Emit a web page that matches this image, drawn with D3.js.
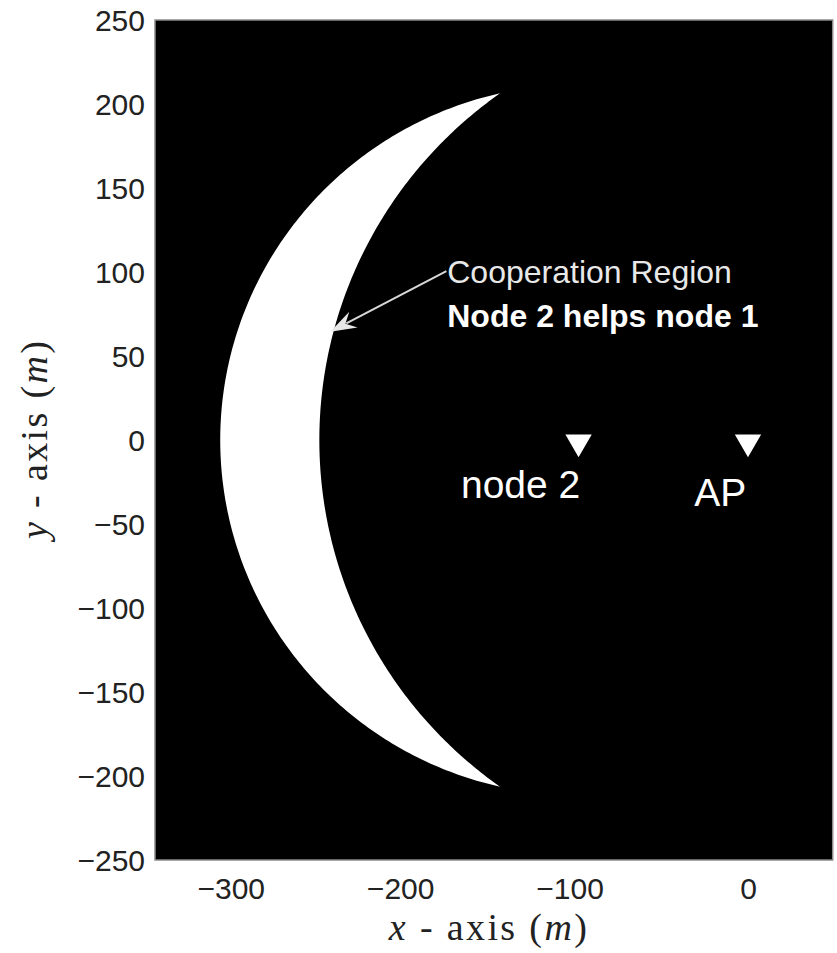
<!DOCTYPE html>
<html>
<head>
<meta charset="utf-8">
<script src="https://cdn.jsdelivr.net/npm/d3@7"></script>
<style>
  html, body { margin: 0; padding: 0; background: #ffffff; }
  svg { display: block; }
</style>
</head>
<body>
<svg id="chart" width="837" height="953"></svg>
<script>
// Axis ranges and ticks (metres)
const xDomain = [-350, 50];
const yDomain = [-250, 250];
const xTicks = [-300, -200, -100, 0];
const yTicks = [250, 200, 150, 100, 50, 0, -50, -100, -150, -200, -250];

// Node positions
const nodeNames = ["node 2", "AP"];
const nodeX = [-100, 0];
const nodeY = [0, 0];
// Node label anchors (text end point)
const labelX = [-99, -1];
const labelY = [-34.5, -39.5];

// Cooperation region: inside the circle around node 2, outside the circle around the AP
const regionCenterX = [-100, 0];   // [node 2, AP]
const regionRadius = [211.5, 253]; // [outer boundary, inner boundary]

// Annotation
const noteLines = ["Cooperation Region", "Node 2 helps node 1"];
const noteX = -177.5;
const noteY = [93.3, 67.4];
const arrowFrom = [-178, 100.5];
const arrowTo = [-246.5, 64.5];

const svg = d3.select("#chart");
const mLeft = 155, mRight = 832.7, mTop = 20, mBottom = 860;
const x = d3.scaleLinear().domain(xDomain).range([mLeft, mRight]);
const y = d3.scaleLinear().domain(yDomain).range([mBottom, mTop]);

// Plot background
svg.append("rect")
  .attr("x", mLeft).attr("y", mTop)
  .attr("width", mRight - mLeft).attr("height", mBottom - mTop)
  .attr("fill", "#000");

// Crescent region between the two boundary circles
const cx1 = regionCenterX[0], r1 = regionRadius[0];
const cx2 = regionCenterX[1], r2 = regionRadius[1];
const tipX = (r1 * r1 - r2 * r2 - (cx1 * cx1 - cx2 * cx2)) / (2 * (cx2 - cx1));
const tipY = Math.sqrt(r2 * r2 - (tipX - cx2) * (tipX - cx2));
const a1 = Math.atan2(tipY, tipX - cx1);       // outer arc start angle
const a2 = Math.atan2(tipY, tipX - cx2);       // inner arc end angle
const pts = [];
const n = 240;
for (let i = 0; i <= n; i++) {
  const t = a1 + (2 * Math.PI - 2 * a1) * i / n;
  pts.push([cx1 + r1 * Math.cos(t), r1 * Math.sin(t)]);
}
for (let i = 0; i <= n; i++) {
  const t = (2 * Math.PI - a2) - (2 * Math.PI - 2 * a2) * i / n;
  pts.push([cx2 + r2 * Math.cos(t), r2 * Math.sin(t)]);
}
const line = d3.line().x(d => x(d[0])).y(d => y(d[1]));
svg.append("path")
  .attr("d", line(pts) + "Z")
  .attr("fill", "#fff")
  .attr("stroke", "none");

// Node markers (downward triangles)
const tri = d3.symbol().type(d3.symbolTriangle).size(300);
svg.selectAll("path.node")
  .data(nodeNames)
  .join("path")
  .attr("class", "node")
  .attr("d", tri)
  .attr("fill", "#fff")
  .attr("transform", (d, i) => `translate(${x(nodeX[i])},${y(nodeY[i]) + 2}) rotate(180)`);

svg.selectAll("text.nodelabel")
  .data(nodeNames)
  .join("text")
  .attr("class", "nodelabel")
  .attr("x", (d, i) => x(labelX[i]))
  .attr("y", (d, i) => y(labelY[i]))
  .attr("text-anchor", "end")
  .attr("font-family", "Liberation Sans, Arial, sans-serif")
  .attr("font-size", 39)
  .attr("fill", "#fff")
  .text(d => d);

// Annotation arrow
const ax0 = x(arrowFrom[0]), ay0 = y(arrowFrom[1]);
const ax1 = x(arrowTo[0]), ay1 = y(arrowTo[1]);
const ang = Math.atan2(ay1 - ay0, ax1 - ax0);
const headLen = 26, headW = 9;
const bx = ax1 - headLen * Math.cos(ang), by = ay1 - headLen * Math.sin(ang);
svg.append("line")
  .attr("x1", ax0).attr("y1", ay0)
  .attr("x2", bx + 8 * Math.cos(ang)).attr("y2", by + 8 * Math.sin(ang))
  .attr("stroke", "#d8d8d8").attr("stroke-width", 2);
svg.append("path")
  .attr("d", `M${ax1},${ay1}L${bx + headW * Math.sin(ang)},${by - headW * Math.cos(ang)}L${bx + 9 * Math.cos(ang)},${by + 9 * Math.sin(ang)}L${bx - headW * Math.sin(ang)},${by + headW * Math.cos(ang)}Z`)
  .attr("fill", "#e8e8e8");

svg.append("text")
  .attr("x", x(noteX)).attr("y", y(noteY[0]))
  .attr("font-family", "Liberation Sans, Arial, sans-serif")
  .attr("font-size", 32)
  .attr("fill", "#e8e8e8")
  .text(noteLines[0]);
svg.append("text")
  .attr("x", x(noteX)).attr("y", y(noteY[1]))
  .attr("font-family", "Liberation Sans, Arial, sans-serif")
  .attr("font-size", 32)
  .attr("font-weight", "bold")
  .attr("fill", "#fff")
  .text(noteLines[1]);

// Frame
svg.append("rect")
  .attr("x", mLeft).attr("y", mTop)
  .attr("width", mRight - mLeft).attr("height", mBottom - mTop)
  .attr("fill", "none").attr("stroke", "#8a8a8a").attr("stroke-width", 1.5);

// Axes (ticks sit inside the dark frame and are not visible)
const fmt = v => (v < 0 ? "\u2212" : "") + Math.abs(v);
const xAxis = svg.append("g")
  .attr("transform", `translate(0,${mBottom})`)
  .call(d3.axisBottom(x).tickValues(xTicks).tickFormat(fmt).tickSize(0).tickPadding(18));
const yAxis = svg.append("g")
  .attr("transform", `translate(${mLeft},0)`)
  .call(d3.axisLeft(y).tickValues(yTicks).tickFormat(fmt).tickSize(0).tickPadding(10));
[xAxis, yAxis].forEach(g => {
  g.select(".domain").remove();
  g.selectAll("text")
    .attr("font-family", "Liberation Sans, Arial, sans-serif")
    .attr("font-size", 30)
    .attr("fill", "#222");
});
// Centre the digits of negative x labels on the tick
xAxis.selectAll("text").attr("dx", d => d < 0 ? "-0.3em" : 0);
yAxis.selectAll("text").attr("dy", "0.36em");

// Axis titles
function axisTitle(sel, v) {
  sel.attr("text-anchor", "middle")
    .attr("font-family", "Liberation Serif, Times New Roman, serif")
    .attr("font-size", 38)
    .attr("fill", "#222")
    .attr("textLength", 198)
    .attr("lengthAdjust", "spacing");
  sel.append("tspan").attr("font-style", "italic").text(v);
  sel.append("tspan").text(" - axis (");
  sel.append("tspan").attr("font-style", "italic").text("m");
  sel.append("tspan").text(")");
}
axisTitle(svg.append("text")
  .attr("x", (mLeft + mRight) / 2 - 6).attr("y", 940), "x");
axisTitle(svg.append("text")
  .attr("transform", `translate(47,${(mTop + mBottom) / 2}) rotate(-90)`), "y");
</script>
</body>
</html>
